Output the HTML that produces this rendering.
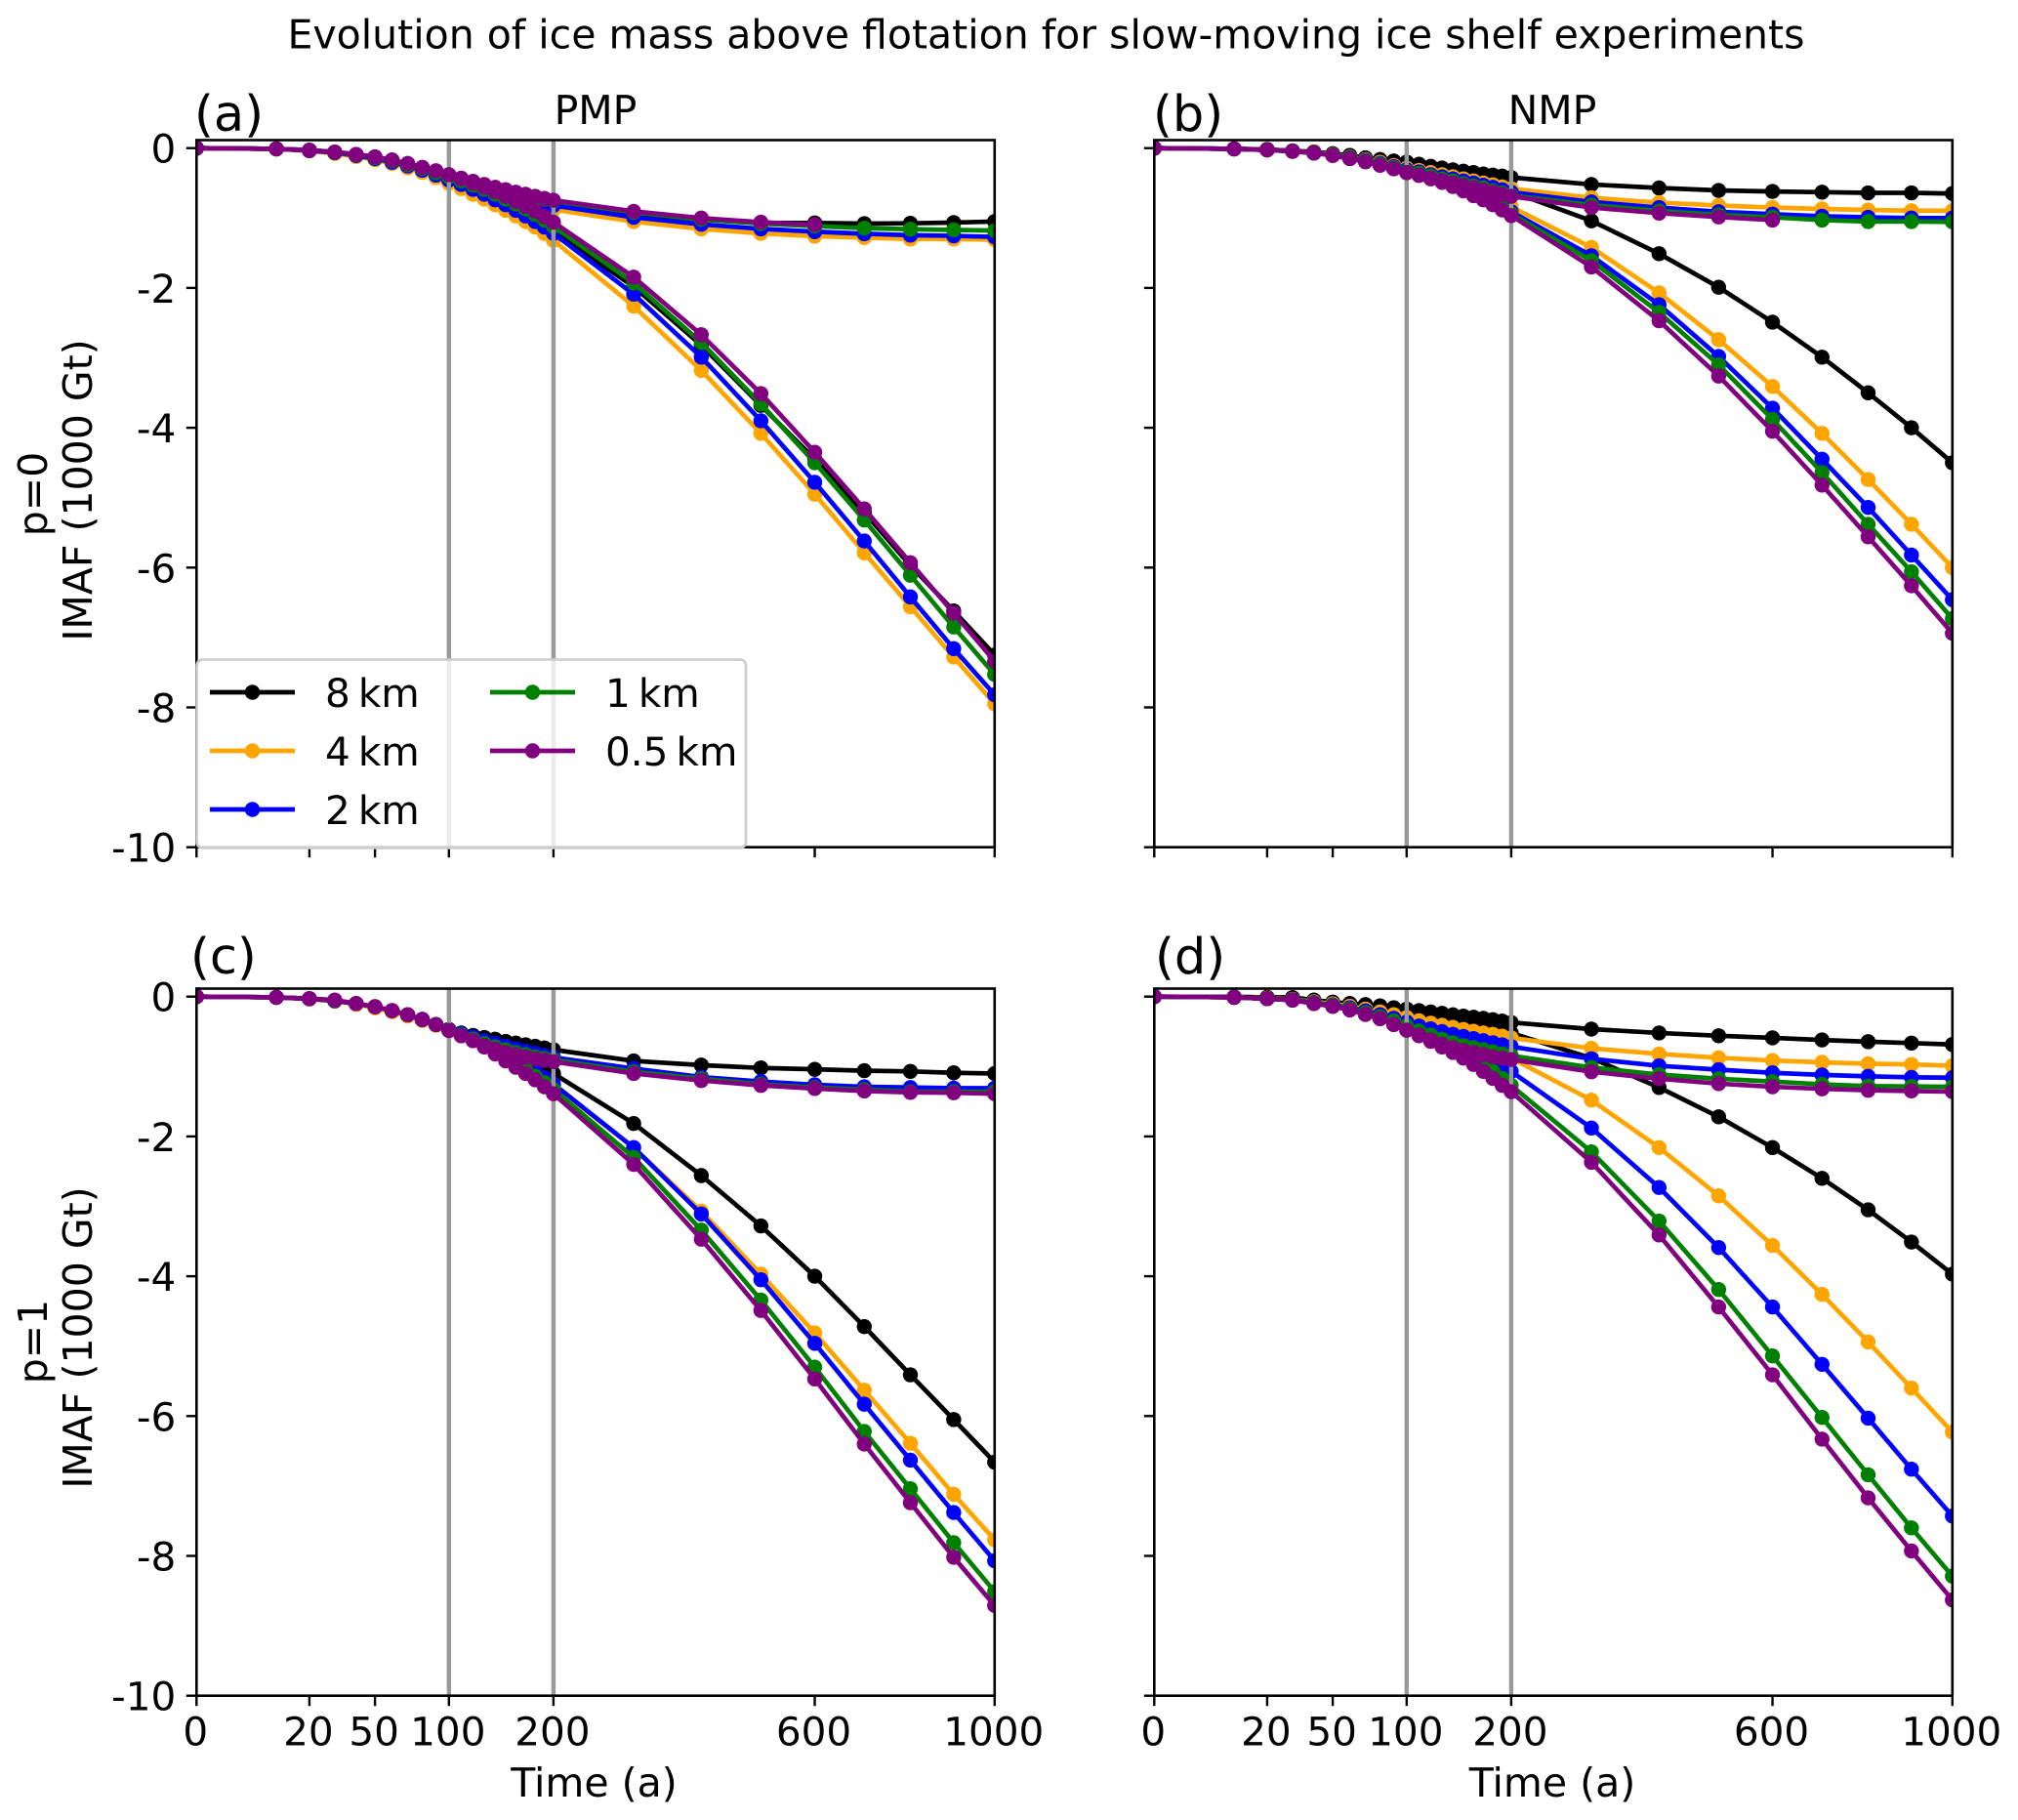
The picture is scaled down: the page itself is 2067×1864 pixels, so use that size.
<!DOCTYPE html>
<html lang="en">
<head>
<meta charset="utf-8">
<title>Evolution of ice mass above flotation</title>
<style>
html,body{margin:0;padding:0;background:#fff;}
svg{display:block;font-family:"DejaVu Sans","Liberation Sans",sans-serif;fill:#000;}
</style>
</head>
<body>
<svg id="figure" xmlns="http://www.w3.org/2000/svg" width="2067" height="1864" viewBox="0 0 2067 1864">
  <rect width="2067" height="1864" fill="#fff"/>
  <text x="1071.5" y="49.5" font-size="41" text-anchor="middle">Evolution of ice mass above flotation for slow-moving ice shelf experiments</text>
  <text x="199" y="134" font-size="51">(a)</text>
  <text x="1181" y="134" font-size="51">(b)</text>
  <text x="195" y="997" font-size="51">(c)</text>
  <text x="1183" y="997" font-size="51">(d)</text>
  <text x="610" y="127" font-size="41" text-anchor="middle">PMP</text>
  <text x="1590" y="127" font-size="41" text-anchor="middle">NMP</text>
  <text transform="translate(48,506) rotate(-90)" font-size="41" text-anchor="middle">p=0</text>
  <text transform="translate(94,502) rotate(-90)" font-size="41" text-anchor="middle">IMAF (1000 Gt)</text>
  <text transform="translate(48,1374) rotate(-90)" font-size="41" text-anchor="middle">p=1</text>
  <text transform="translate(94,1370) rotate(-90)" font-size="41" text-anchor="middle">IMAF (1000 Gt)</text>
  <text x="608.5" y="1840" font-size="41" text-anchor="middle">Time (a)</text>
  <text x="1590" y="1840" font-size="41" text-anchor="middle">Time (a)</text>
  <g id="plots"></g>
  <g id="legend"></g>
</svg>
<script>
const stemTimes = [0,10,20,30,40,50,60,70,80,90,100];
const branchTimes = [110,120,130,140,150,160,170,180,190,200,300,400,500,600,700,800,900,1000];
const xTicks = [0,20,50,100,200,600,1000];
const yTicks = [0,-2,-4,-6,-8,-10];
const markerLines = [100,200];
const seriesLabels = ['8 km','4 km','2 km','1 km','0.5 km'];
const seriesColors = ['#000000','#ffa500','#0000ff','#008000','#800080'];

/* panel (a) PMP, p=0 */
const a8Stem = [0,-.01,-.03,-.06,-.095,-.135,-.185,-.235,-.29,-.345,-.40];
const a8Up = [-.45,-.5,-.54,-.58,-.62,-.65,-.68,-.71,-.74,-.76,-.94,-1.02,-1.07,-1.07,-1.08,-1.075,-1.065,-1.05];
const a8Low = [-.46,-.53,-.6,-.68,-.75,-.83,-.92,-1.01,-1.1,-1.2,-1.98,-2.82,-3.68,-4.45,-5.21,-5.97,-6.62,-7.25];
const a4Stem = [0,-.01,-.04,-.075,-.12,-.165,-.22,-.28,-.345,-.42,-.5];
const a4Up = [-.56,-.61,-.66,-.70,-.74,-.77,-.80,-.83,-.86,-.88,-1.05,-1.155,-1.22,-1.26,-1.28,-1.30,-1.30,-1.31];
const a4Low = [-.58,-.66,-.73,-.81,-.89,-.97,-1.05,-1.13,-1.22,-1.32,-2.26,-3.18,-4.08,-4.95,-5.79,-6.56,-7.28,-7.95];
const a2Stem = [0,-.01,-.035,-.065,-.105,-.15,-.2,-.255,-.315,-.385,-.455];
const a2Up = [-.51,-.56,-.61,-.65,-.69,-.72,-.75,-.78,-.80,-.82,-.99,-1.09,-1.155,-1.195,-1.225,-1.245,-1.255,-1.27];
const a2Low = [-.52,-.59,-.66,-.74,-.81,-.89,-.97,-1.05,-1.13,-1.22,-2.09,-2.99,-3.9,-4.78,-5.62,-6.42,-7.16,-7.82];
const a1Stem = [0,-.01,-.03,-.06,-.095,-.135,-.18,-.235,-.29,-.35,-.41];
const a1Up = [-.46,-.51,-.55,-.59,-.62,-.65,-.68,-.71,-.73,-.755,-.92,-1.02,-1.08,-1.115,-1.145,-1.16,-1.17,-1.18];
const a1Low = [-.47,-.53,-.59,-.66,-.73,-.80,-.87,-.95,-1.03,-1.12,-1.93,-2.78,-3.66,-4.5,-5.32,-6.11,-6.85,-7.53];
const a05Stem = [0,-.01,-.03,-.055,-.09,-.125,-.17,-.22,-.275,-.325,-.38];
const a05Up = [-.43,-.475,-.52,-.56,-.595,-.63,-.66,-.69,-.72,-.745,-.905,-1.0,-1.06,-1.095];
const a05Low = [-.44,-.50,-.56,-.625,-.69,-.76,-.83,-.90,-.98,-1.06,-1.845,-2.67,-3.51,-4.35,-5.16,-5.93,-6.65,-7.34];

/* panel (b) NMP, p=0 */
const b8Stem = [0,-.01,-.02,-.04,-.055,-.08,-.105,-.14,-.165,-.185,-.2];
const b8Up = [-.23,-.26,-.285,-.31,-.33,-.35,-.37,-.385,-.40,-.42,-.52,-.57,-.605,-.62,-.63,-.64,-.64,-.65];
const b8Low = [-.24,-.275,-.31,-.345,-.38,-.42,-.46,-.51,-.56,-.62,-1.04,-1.51,-1.99,-2.49,-2.99,-3.5,-4.0,-4.5];
const b4Stem = [0,-.01,-.025,-.045,-.065,-.095,-.13,-.165,-.205,-.25,-.29];
const b4Up = [-.32,-.35,-.38,-.41,-.44,-.47,-.50,-.525,-.555,-.58,-.71,-.78,-.82,-.85,-.87,-.885,-.895,-.895];
const b4Low = [-.33,-.37,-.41,-.46,-.51,-.56,-.62,-.68,-.76,-.84,-1.42,-2.07,-2.74,-3.41,-4.08,-4.74,-5.38,-6.0];
const b2Stem = [0,-.01,-.025,-.045,-.07,-.1,-.135,-.175,-.22,-.265,-.31];
const b2Up = [-.34,-.38,-.41,-.44,-.47,-.50,-.53,-.56,-.595,-.63,-.77,-.85,-.91,-.945,-.975,-.99,-1.0,-1.0];
const b2Low = [-.35,-.40,-.45,-.50,-.56,-.62,-.68,-.75,-.83,-.91,-1.54,-2.24,-2.98,-3.72,-4.45,-5.14,-5.82,-6.46];
const b1Stem = [0,-.01,-.025,-.045,-.07,-.1,-.14,-.185,-.23,-.28,-.33];
const b1Up = [-.36,-.40,-.44,-.47,-.51,-.54,-.57,-.61,-.64,-.675,-.815,-.9,-.955,-.99,-1.03,-1.05,-1.05,-1.055];
const b1Low = [-.37,-.42,-.47,-.53,-.59,-.65,-.72,-.79,-.86,-.94,-1.61,-2.35,-3.1,-3.88,-4.64,-5.38,-6.06,-6.73];
const b05Stem = [0,-.01,-.025,-.045,-.07,-.105,-.15,-.195,-.245,-.295,-.35];
const b05Up = [-.385,-.43,-.465,-.5,-.535,-.565,-.60,-.63,-.66,-.69,-.85,-.93,-.985,-1.03];
const b05Low = [-.39,-.44,-.49,-.55,-.61,-.68,-.74,-.81,-.885,-.965,-1.7,-2.47,-3.26,-4.05,-4.82,-5.56,-6.26,-6.94];

/* panel (c) PMP, p=1 */
const c8Stem = [0,-.01,-.03,-.06,-.105,-.15,-.205,-.265,-.33,-.4,-.47];
const c8Up = [-.52,-.555,-.585,-.61,-.64,-.665,-.69,-.71,-.735,-.76,-.92,-.98,-1.02,-1.04,-1.06,-1.07,-1.09,-1.10];
const c8Low = [-.53,-.575,-.62,-.67,-.72,-.78,-.84,-.91,-1.0,-1.1,-1.815,-2.56,-3.28,-4.0,-4.72,-5.41,-6.05,-6.66];
const c4Stem = [0,-.01,-.035,-.065,-.11,-.16,-.215,-.275,-.34,-.41,-.48];
const c4Up = [-.54,-.59,-.64,-.68,-.72,-.76,-.79,-.82,-.85,-.88,-1.05,-1.17,-1.23,-1.27,-1.3,-1.32,-1.33,-1.33];
const c4Low = [-.54,-.6,-.68,-.76,-.84,-.92,-1.0,-1.08,-1.17,-1.27,-2.16,-3.07,-3.97,-4.81,-5.63,-6.39,-7.12,-7.77];
const c2Stem = [0,-.01,-.03,-.06,-.1,-.145,-.2,-.26,-.325,-.4,-.475];
const c2Up = [-.53,-.58,-.63,-.67,-.71,-.745,-.78,-.81,-.84,-.87,-1.03,-1.15,-1.215,-1.26,-1.29,-1.30,-1.31,-1.31];
const c2Low = [-.54,-.6,-.67,-.75,-.83,-.91,-.99,-1.07,-1.16,-1.25,-2.16,-3.11,-4.05,-4.96,-5.83,-6.63,-7.38,-8.07];
const c1Stem = [0,-.01,-.03,-.055,-.1,-.145,-.2,-.26,-.33,-.4,-.48];
const c1Up = [-.55,-.61,-.67,-.72,-.76,-.8,-.83,-.86,-.885,-.905,-1.075,-1.175,-1.255,-1.30,-1.33,-1.36,-1.36,-1.36];
const c1Low = [-.55,-.62,-.7,-.79,-.87,-.96,-1.05,-1.14,-1.23,-1.33,-2.3,-3.34,-4.34,-5.3,-6.22,-7.04,-7.81,-8.51];
const c05Stem = [0,-.01,-.03,-.05,-.1,-.145,-.2,-.26,-.33,-.4,-.485];
const c05Up = [-.56,-.63,-.70,-.75,-.8,-.83,-.865,-.89,-.91,-.93,-1.10,-1.2,-1.27,-1.315,-1.35,-1.37,-1.375,-1.39];
const c05Low = [-.56,-.63,-.72,-.82,-.92,-1.01,-1.10,-1.19,-1.29,-1.39,-2.4,-3.47,-4.49,-5.47,-6.4,-7.24,-8.02,-8.71];

/* panel (d) NMP, p=1 */
const d8Stem = [0,-.005,-.01,-.015,-.05,-.08,-.10,-.115,-.135,-.16,-.18];
const d8Up = [-.2,-.22,-.24,-.26,-.28,-.295,-.31,-.33,-.35,-.37,-.465,-.52,-.56,-.59,-.62,-.645,-.665,-.685];
const d8Low = [-.205,-.23,-.25,-.275,-.30,-.325,-.355,-.39,-.43,-.52,-.88,-1.3,-1.72,-2.16,-2.6,-3.05,-3.51,-3.97];
const d4Stem = [0,-.01,-.025,-.04,-.075,-.105,-.14,-.18,-.22,-.26,-.3];
const d4Up = [-.345,-.38,-.41,-.44,-.47,-.495,-.52,-.54,-.565,-.59,-.74,-.82,-.875,-.915,-.94,-.96,-.97,-.99];
const d4Low = [-.35,-.39,-.43,-.47,-.52,-.57,-.62,-.69,-.78,-.88,-1.48,-2.16,-2.85,-3.56,-4.26,-4.94,-5.6,-6.23];
const d2Stem = [0,-.01,-.03,-.045,-.085,-.12,-.16,-.205,-.26,-.31,-.365];
const d2Up = [-.42,-.46,-.5,-.54,-.57,-.6,-.63,-.66,-.69,-.715,-.89,-.99,-1.045,-1.09,-1.12,-1.14,-1.155,-1.16];
const d2Low = [-.43,-.48,-.53,-.59,-.65,-.72,-.79,-.87,-.97,-1.07,-1.88,-2.73,-3.59,-4.44,-5.26,-6.03,-6.76,-7.43];
const d1Stem = [0,-.01,-.03,-.05,-.09,-.13,-.175,-.23,-.29,-.35,-.42];
const d1Up = [-.49,-.55,-.61,-.66,-.7,-.73,-.76,-.79,-.82,-.845,-1.015,-1.115,-1.175,-1.215,-1.255,-1.28,-1.285,-1.29];
const d1Low = [-.5,-.56,-.64,-.72,-.8,-.89,-.98,-1.07,-1.17,-1.27,-2.22,-3.21,-4.19,-5.14,-6.02,-6.84,-7.6,-8.29];
const d05Stem = [0,-.01,-.03,-.05,-.1,-.14,-.19,-.255,-.315,-.4,-.48];
const d05Up = [-.55,-.62,-.68,-.73,-.77,-.8,-.83,-.86,-.88,-.9,-1.075,-1.175,-1.245,-1.29,-1.32,-1.34,-1.35,-1.36];
const d05Low = [-.56,-.64,-.72,-.8,-.88,-.97,-1.07,-1.17,-1.27,-1.36,-2.37,-3.41,-4.44,-5.41,-6.33,-7.17,-7.93,-8.63];

const panelA = [[a8Stem,a8Up,a8Low],[a4Stem,a4Up,a4Low],[a2Stem,a2Up,a2Low],[a1Stem,a1Up,a1Low],[a05Stem,a05Up,a05Low]];
const panelB = [[b8Stem,b8Up,b8Low],[b4Stem,b4Up,b4Low],[b2Stem,b2Up,b2Low],[b1Stem,b1Up,b1Low],[b05Stem,b05Up,b05Low]];
const panelC = [[c8Stem,c8Up,c8Low],[c4Stem,c4Up,c4Low],[c2Stem,c2Up,c2Low],[c1Stem,c1Up,c1Low],[c05Stem,c05Up,c05Low]];
const panelD = [[d8Stem,d8Up,d8Low],[d4Stem,d4Up,d4Low],[d2Stem,d2Up,d2Low],[d1Stem,d1Up,d1Low],[d05Stem,d05Up,d05Low]];

const NS = 'http://www.w3.org/2000/svg';
const AX_W = 817.5, PX_PER_UNIT = 71.6, TOP_PAD = 8.2;
const LINE_W = 4.7, DOT_R = 7.7;

function mk(tag, parent, attrs) {
  const e = document.createElementNS(NS, tag);
  for (const k in attrs) e.setAttribute(k, attrs[k]);
  parent.appendChild(e);
  return e;
}

function drawBranch(group, xOf, yOf, stem, branch, color, name) {
  const pts = [];
  stem.forEach(function (v, i) { pts.push([xOf(stemTimes[i]), yOf(v)]); });
  branch.forEach(function (v, i) { pts.push([xOf(branchTimes[i]), yOf(v)]); });
  const line = mk('polyline', group, {
    points: pts.map(function (p) { return p[0].toFixed(2) + ',' + p[1].toFixed(2); }).join(' '),
    fill: 'none', stroke: color, 'stroke-width': LINE_W, 'stroke-linejoin': 'round'
  });
  
  
  pts.forEach(function (p) {
    const dot = mk('circle', group, { cx: p[0].toFixed(2), cy: p[1].toFixed(2), r: DOT_R, fill: color });
    
    
  });
}

function drawPanel(id, left, top, data, showX, showY) {
  const root = document.getElementById('plots');
  const y0 = top + TOP_PAD;
  const bottom = y0 + 10 * PX_PER_UNIT;
  const xOf = function (t) { return left + AX_W * Math.sqrt(t / 1000); };
  const yOf = function (v) { return y0 - v * PX_PER_UNIT; };

  const panel = mk('g', root, {});
  
  

  const clip = mk('clipPath', panel, { id: 'clip-' + id });
  mk('rect', clip, { x: left, y: top, width: AX_W, height: bottom - top });

  const plot = mk('g', panel, { 'clip-path': 'url(#clip-' + id + ')' });
  
  

  data.forEach(function (row, s) {
    if (s === 4) {
      markerLines.forEach(function (t) {
        const v = mk('line', plot, { x1: xOf(t), x2: xOf(t), y1: top, y2: bottom, stroke: '#999999', 'stroke-width': 4.4 });
        
        
      });
    }
    const g = mk('g', plot, {});
    
    
    drawBranch(g, xOf, yOf, row[0], row[1], seriesColors[s], 'upper-branch');
    drawBranch(g, xOf, yOf, row[0], row[2], seriesColors[s], 'lower-branch');
  });

  const frame = mk('rect', panel, { x: left, y: top, width: AX_W, height: bottom - top, fill: 'none', stroke: '#000', 'stroke-width': 2.6 });
  
  

  xTicks.forEach(function (t) {
    const tick = mk('line', panel, { x1: xOf(t), x2: xOf(t), y1: bottom, y2: bottom + 10.5, stroke: '#000', 'stroke-width': 2.4 });
    
    
    if (showX) {
      const lab = mk('text', panel, { x: xOf(t) - 1, y: bottom + 51, 'font-size': 40.5, 'text-anchor': 'middle' });
      lab.textContent = String(t);
      
      
    }
  });
  yTicks.forEach(function (v) {
    const tick = mk('line', panel, { x1: left - 10.5, x2: left, y1: yOf(v), y2: yOf(v), stroke: '#000', 'stroke-width': 2.4 });
    
    
    if (showY) {
      const lab = mk('text', panel, { x: left - 21, y: yOf(v) + 15, 'font-size': 40.5, 'text-anchor': 'end' });
      lab.textContent = String(v);
      
      
    }
  });
}

drawPanel('a', 201.3, 143.5, panelA, false, true);
drawPanel('b', 1182.3, 143.5, panelB, false, false);
drawPanel('c', 201.3, 1012.5, panelC, true, true);
drawPanel('d', 1182.3, 1012.5, panelD, true, false);

(function drawLegend() {
  const g = document.getElementById('legend');
  const box = mk('rect', g, { x: 201.5, y: 675.5, width: 562.5, height: 193, rx: 6, ry: 6, fill: '#fff', 'fill-opacity': 0.8, stroke: '#cccccc', 'stroke-width': 2.6 });
  
  
  const rowY = [709, 769, 829, 709, 769];
  const colX = [215, 215, 215, 502, 502];
  seriesLabels.forEach(function (label, i) {
    const entry = mk('g', g, {});
    
    
    mk('line', entry, { x1: colX[i], x2: colX[i] + 87, y1: rowY[i], y2: rowY[i], stroke: seriesColors[i], 'stroke-width': LINE_W });
    mk('circle', entry, { cx: colX[i] + 43.5, cy: rowY[i], r: DOT_R, fill: seriesColors[i] });
    const parts = label.split(' ');
    const t = mk('text', entry, { x: colX[i] + 118, y: rowY[i] + 15, 'font-size': 40.5 });
    t.textContent = parts[0] + '\u2009' + parts[1];
  });
})();
</script>
</body>
</html>
